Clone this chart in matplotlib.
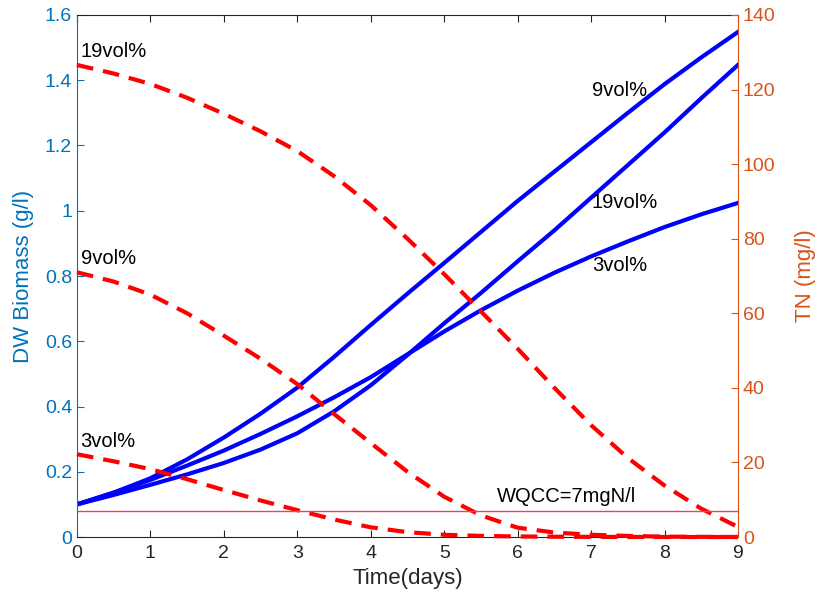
import numpy as np
import matplotlib.pyplot as plt

plt.rcParams['font.family'] = ['Liberation Sans', 'DejaVu Sans']

# time (days)
days = [0, 0.5, 1, 1.5, 2, 2.5, 3, 3.5, 4, 4.5, 5, 5.5, 6, 6.5, 7, 7.5, 8, 8.5, 9]

# DW biomass (g/l)
bio_9 = [0.1, 0.136, 0.18, 0.238, 0.305, 0.378, 0.458, 0.552, 0.65, 0.746,
         0.84, 0.935, 1.03, 1.12, 1.21, 1.30, 1.388, 1.47, 1.548]
bio_19 = [0.1, 0.129, 0.16, 0.192, 0.227, 0.268, 0.318, 0.385, 0.465, 0.558,
          0.655, 0.748, 0.845, 0.94, 1.04, 1.14, 1.24, 1.345, 1.447]
bio_3 = [0.1, 0.136, 0.175, 0.219, 0.265, 0.316, 0.37, 0.428, 0.49, 0.56,
         0.63, 0.695, 0.755, 0.81, 0.86, 0.906, 0.95, 0.989, 1.024]

# TN (mg/l)
tn_19 = [126.6, 124.3, 121.5, 117.8, 113.5, 108.8, 103.5, 96.8, 89, 80,
         70.5, 60.5, 50.5, 40, 30, 21.2, 13.8, 7.6, 2.7]
tn_9 = [71, 68.5, 65, 60, 54, 47.8, 41, 33, 25.2, 17.5,
        10.8, 5.8, 2.5, 1.2, 0.6, 0.3, 0.1, 0.05, 0]
tn_3 = [22.2, 20.3, 18.2, 15.5, 12.6, 9.8, 7.2, 4.7, 2.6, 1.3,
        0.6, 0.3, 0.15, 0.08, 0.04, 0.02, 0.01, 0, 0]

wqcc = 7

c_left = '#0072BD'
c_right = '#D95319'
c_axis = '#262626'

fig = plt.figure(figsize=(8.17, 6.07), dpi=100)
ax = fig.add_axes([0.0942, 0.1153, 0.8091, 0.86])

for b in [bio_9, bio_19, bio_3]:
    ax.plot(days, b, color='#0000FF', lw=3, solid_joinstyle='round')

ax.set_xlim(0, 9)
ax.set_ylim(0, 1.6)
ax.set_xticks(range(10))
ax.set_yticks(np.arange(0, 1.61, 0.2))
ax.set_yticklabels(['0', '0.2', '0.4', '0.6', '0.8', '1', '1.2', '1.4', '1.6'])
ax.tick_params(axis='x', direction='in', length=5, colors=c_axis, labelsize=14,
               top=True, pad=6)
ax.tick_params(axis='y', direction='in', length=5, colors=c_left, labelsize=14)
ax.spines['left'].set_color(c_left)
ax.spines['bottom'].set_color(c_axis)
ax.spines['top'].set_color(c_axis)
ax.spines['right'].set_visible(False)
ax.set_xlabel('Time(days)', fontsize=16, color=c_axis, labelpad=4)
ax.set_ylabel('DW Biomass (g/l)', fontsize=16, color=c_left, labelpad=8)

ax2 = ax.twinx()
for tn in [tn_19, tn_9, tn_3]:
    ax2.plot(days, tn, color='#FF0000', lw=3, dashes=(4, 2.4), clip_on=False)
ax2.plot([0, 9], [wqcc, wqcc], color='#E8474F', lw=1)
ax2.set_ylim(0, 140)
ax2.set_yticks(range(0, 141, 20))
ax2.tick_params(axis='y', direction='in', length=5, colors=c_right, labelsize=14)
ax2.spines['right'].set_color(c_right)
ax2.spines['left'].set_visible(False)
ax2.spines['top'].set_visible(False)
ax2.spines['bottom'].set_visible(False)
ax2.set_ylabel('TN (mg/l)', fontsize=16, color=c_right, labelpad=14)

# labels on the curves
lbl = dict(fontsize=14.5, color='black', va='center', ha='left')
ax.text(0.05, 1.487, '19vol%', **lbl)
ax.text(0.05, 0.855, '9vol%', **lbl)
ax.text(0.05, 0.294, '3vol%', **lbl)
ax.text(7.01, 1.37, '9vol%', **lbl)
ax.text(7.01, 1.024, '19vol%', **lbl)
ax.text(7.01, 0.831, '3vol%', **lbl)
ax.text(5.72, 0.123, 'WQCC=7mgN/l', **lbl)

fig.savefig('out.png', dpi=100)
